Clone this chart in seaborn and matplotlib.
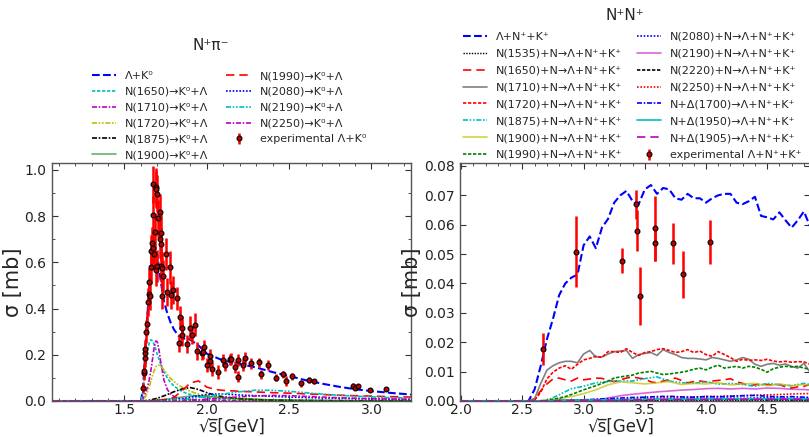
import matplotlib
matplotlib.use("Agg")
import matplotlib.pyplot as plt
import seaborn as sns
from matplotlib.ticker import MultipleLocator

# ---------------- left panel: N+ pi- -> Lambda K0 ----------------
LX = [1.06, 1.60, 1.61, 1.62, 1.63, 1.64, 1.65, 1.66, 1.67, 1.68, 1.69, 1.70, 1.71, 1.72,
      1.74, 1.76, 1.78, 1.80, 1.83, 1.86, 1.89, 1.92, 1.95, 2.0, 2.05, 2.1, 2.2, 2.3, 2.4,
      2.5, 2.6, 2.7, 2.8, 2.9, 3.0, 3.1, 3.24]
L_total = [0, 0, 0.04, 0.13, 0.26, 0.38, 0.48, 0.56, 0.61, 0.64, 0.655, 0.63, 0.58, 0.52,
           0.43, 0.38, 0.34, 0.31, 0.28, 0.27, 0.27, 0.255, 0.24, 0.205, 0.19, 0.175, 0.16,
           0.145, 0.125, 0.108, 0.09, 0.075, 0.062, 0.051, 0.043, 0.036, 0.028]
L_n1650 = [0, 0, 0.03, 0.10, 0.17, 0.22, 0.25, 0.265, 0.26, 0.245, 0.225, 0.20, 0.18, 0.16,
           0.125, 0.10, 0.08, 0.065, 0.05, 0.038, 0.03, 0.024, 0.019, 0.014, 0.01, 0.008,
           0.005, 0.003, 0.002, 0.0015, 0.001, 0.001, 0.001, 0.001, 0.001, 0.001, 0.001]
L_n1710 = [0, 0, 0.005, 0.02, 0.04, 0.06, 0.09, 0.13, 0.18, 0.23, 0.26, 0.255, 0.22, 0.17,
           0.09, 0.05, 0.03, 0.02, 0.012, 0.008, 0.006, 0.005, 0.004, 0.003, 0.003, 0.002,
           0.002, 0.002, 0.002, 0.001, 0.001, 0.001, 0.001, 0.001, 0.001, 0.001, 0.001]
L_n1720 = [0, 0, 0.004, 0.01, 0.022, 0.04, 0.06, 0.085, 0.11, 0.13, 0.148, 0.155, 0.155, 0.15,
           0.135, 0.115, 0.098, 0.085, 0.068, 0.055, 0.045, 0.037, 0.03, 0.022, 0.017, 0.013,
           0.008, 0.006, 0.004, 0.003, 0.002, 0.002, 0.0015, 0.001, 0.001, 0.001, 0.001]

LX_MID = [1.06, 1.60, 1.65, 1.70, 1.75, 1.80, 1.85, 1.90, 1.95, 2.0, 2.05, 2.1, 2.2, 2.3,
          2.4, 2.5, 2.6, 2.7, 2.8, 2.9, 3.0, 3.1, 3.24]
L_n1875 = [0, 0, 0.003, 0.012, 0.025, 0.04, 0.052, 0.058, 0.05, 0.036, 0.025, 0.018, 0.01,
           0.006, 0.004, 0.003, 0.002, 0.002, 0.001, 0.001, 0.001, 0.001, 0.001]
L_n1900 = [0, 0, 0.001, 0.004, 0.008, 0.012, 0.017, 0.021, 0.023, 0.02, 0.017, 0.015, 0.01,
           0.007, 0.005, 0.004, 0.003, 0.002, 0.002, 0.001, 0.001, 0.001, 0.001]
L_n1990 = [0, 0, 0.001, 0.002, 0.006, 0.015, 0.045, 0.078, 0.087, 0.06, 0.05, 0.046, 0.042,
           0.039, 0.036, 0.034, 0.031, 0.028, 0.025, 0.023, 0.021, 0.019, 0.017]
L_n2080 = [0, 0, 0, 0.001, 0.003, 0.006, 0.01, 0.016, 0.022, 0.028, 0.03, 0.03, 0.026,
           0.023, 0.02, 0.017, 0.015, 0.013, 0.012, 0.01, 0.009, 0.008, 0.007]
L_n2190 = [0, 0, 0, 0, 0.001, 0.003, 0.006, 0.01, 0.015, 0.02, 0.025, 0.03, 0.04,
           0.047, 0.046, 0.042, 0.036, 0.03, 0.025, 0.021, 0.018, 0.015, 0.012]
L_n2250 = [0, 0, 0, 0, 0, 0, 0.001, 0.003, 0.005, 0.008, 0.01, 0.013, 0.018,
           0.022, 0.024, 0.023, 0.02, 0.017, 0.014, 0.012, 0.01, 0.009, 0.007]

L_exp_x = [1.610, 1.616, 1.620, 1.622, 1.624, 1.627, 1.630, 1.634, 1.640, 1.646, 1.650, 1.654,
           1.660, 1.664, 1.670, 1.674, 1.676, 1.676, 1.680, 1.684, 1.690, 1.690, 1.694, 1.700,
           1.700, 1.706, 1.716, 1.716, 1.720, 1.720, 1.720, 1.730, 1.736, 1.730, 1.750, 1.760,
           1.774, 1.780, 1.794, 1.820, 1.840, 1.850, 1.850, 1.830, 1.880, 1.900, 1.910, 1.930,
           1.940, 1.970, 1.975, 1.980, 2.000, 2.020, 2.020, 2.030, 2.070, 2.100, 2.110, 2.140,
           2.150, 2.170, 2.190, 2.190, 2.220, 2.230, 2.270, 2.320, 2.330, 2.370, 2.420, 2.460,
           2.480, 2.520, 2.570, 2.620, 2.650, 2.890, 2.900, 2.920, 2.990, 3.090]
L_exp_y = [0.056, 0.120, 0.130, 0.185, 0.206, 0.225, 0.300, 0.335, 0.428, 0.463, 0.516, 0.454,
           0.578, 0.650, 0.685, 0.664, 0.939, 0.807, 0.635, 0.733, 0.928, 0.566, 0.917, 0.897,
           0.585, 0.790, 0.817, 0.700, 0.728, 0.678, 0.585, 0.574, 0.540, 0.456, 0.635, 0.473,
           0.578, 0.460, 0.480, 0.445, 0.363, 0.316, 0.287, 0.250, 0.246, 0.316, 0.285, 0.330,
           0.216, 0.206, 0.210, 0.235, 0.156, 0.196, 0.173, 0.137, 0.127, 0.177, 0.156, 0.180,
           0.182, 0.147, 0.106, 0.177, 0.156, 0.187, 0.163, 0.167, 0.116, 0.156, 0.100, 0.116,
           0.087, 0.107, 0.077, 0.090, 0.085, 0.066, 0.056, 0.064, 0.047, 0.052]
L_exp_e = [0.02, 0.03, 0.03, 0.04, 0.04, 0.04, 0.05, 0.05, 0.06, 0.06, 0.06, 0.06,
           0.07, 0.07, 0.07, 0.07, 0.08, 0.08, 0.07, 0.08, 0.08, 0.07, 0.08, 0.08,
           0.07, 0.08, 0.08, 0.08, 0.08, 0.07, 0.07, 0.07, 0.07, 0.06, 0.07, 0.06,
           0.07, 0.06, 0.06, 0.05, 0.05, 0.05, 0.05, 0.04, 0.04, 0.05, 0.04, 0.05,
           0.04, 0.03, 0.03, 0.03, 0.03, 0.03, 0.03, 0.03, 0.03, 0.025, 0.025, 0.025,
           0.025, 0.025, 0.025, 0.025, 0.025, 0.025, 0.025, 0.02, 0.02, 0.02, 0.015, 0.015,
           0.02, 0.015, 0.015, 0.012, 0.012, 0.012, 0.01, 0.008, 0.008, 0.006]

# ---------------- right panel: N+ N+ -> Lambda N+ K+ ----------------
RX = [1.99, 2.55, 2.60, 2.65, 2.70, 2.75, 2.80, 2.85, 2.90, 2.95, 3.00, 3.05, 3.10, 3.15,
      3.20, 3.25, 3.30, 3.35, 3.40, 3.45, 3.50, 3.55, 3.60, 3.65, 3.70, 3.75, 3.80, 3.85,
      3.90, 3.95, 4.00, 4.05, 4.10, 4.15, 4.20, 4.25, 4.30, 4.35, 4.40, 4.45, 4.50, 4.55,
      4.60, 4.65, 4.70, 4.75, 4.80, 4.85, 4.90]
R_total = [0, 0, 0.004, 0.012, 0.021, 0.028, 0.036, 0.040, 0.042, 0.043, 0.053, 0.056, 0.052,
           0.059, 0.062, 0.0675, 0.070, 0.0715, 0.068, 0.067, 0.072, 0.0735, 0.0705, 0.0725,
           0.072, 0.069, 0.0685, 0.0705, 0.069, 0.069, 0.0675, 0.069, 0.070, 0.0705, 0.0705,
           0.0675, 0.067, 0.068, 0.0695, 0.063, 0.0625, 0.0618, 0.0642, 0.0615, 0.059, 0.0615,
           0.0645, 0.0595, 0.060]
R_n1710 = [0, 0, 0.0008, 0.006, 0.0105, 0.012, 0.013, 0.0135, 0.0135, 0.013, 0.016, 0.0172,
           0.015, 0.015, 0.016, 0.0168, 0.017, 0.0172, 0.0145, 0.0158, 0.0162, 0.0165, 0.0155,
           0.0175, 0.0165, 0.0158, 0.0148, 0.0145, 0.0145, 0.0143, 0.014, 0.0148, 0.0145,
           0.014, 0.0135, 0.014, 0.0148, 0.0142, 0.0125, 0.0118, 0.0125, 0.0128, 0.0122,
           0.0126, 0.0118, 0.0112, 0.0128, 0.0098, 0.0105]
R_n1720 = [0, 0, 0.0003, 0.003, 0.0075, 0.0098, 0.0112, 0.012, 0.0108, 0.0125, 0.014, 0.0145,
           0.0152, 0.0148, 0.0168, 0.0168, 0.0165, 0.0178, 0.0165, 0.0155, 0.0165, 0.0168,
           0.0175, 0.0178, 0.0172, 0.0165, 0.0168, 0.0175, 0.0165, 0.017, 0.0158, 0.0152,
           0.0168, 0.0158, 0.0148, 0.0135, 0.0142, 0.0138, 0.014, 0.0138, 0.0142, 0.0136,
           0.0133, 0.0135, 0.0132, 0.0134, 0.0133, 0.0125, 0.0122]
R_n1650 = [0, 0, 0.0008, 0.0035, 0.0058, 0.0075, 0.0078, 0.0072, 0.0068, 0.0078, 0.0072,
           0.0075, 0.0078, 0.0077, 0.007, 0.0066, 0.0072, 0.0078, 0.0082, 0.0078, 0.0075,
           0.0065, 0.0062, 0.0068, 0.0072, 0.0078, 0.007, 0.0062, 0.0066, 0.0068, 0.0065,
           0.0068, 0.007, 0.0072, 0.0076, 0.0065, 0.006, 0.0052, 0.0055, 0.0058, 0.0056,
           0.0054, 0.0056, 0.0048, 0.0044, 0.0048, 0.005, 0.0056, 0.0055]
R_n1990 = [0, 0, 0, 0, 0.0002, 0.0006, 0.001, 0.0015, 0.0022, 0.003, 0.0038, 0.0045, 0.0052,
           0.006, 0.0068, 0.0078, 0.0082, 0.0085, 0.0088, 0.0095, 0.0098, 0.0101, 0.0095,
           0.009, 0.0092, 0.0095, 0.0098, 0.0102, 0.0108, 0.0112, 0.0106, 0.0115, 0.0122,
           0.0112, 0.0115, 0.0118, 0.0112, 0.0118, 0.0115, 0.0108, 0.0098, 0.011, 0.0115,
           0.0118, 0.0116, 0.0118, 0.0112, 0.0108, 0.011]

RXC = [1.99, 2.5, 2.6, 2.7, 2.8, 2.9, 3.0, 3.1, 3.2, 3.3, 3.4, 3.5, 3.6, 3.7, 3.8, 3.9,
       4.0, 4.1, 4.2, 4.3, 4.4, 4.5, 4.6, 4.7, 4.8, 4.9]
R_n1875 = [0, 0, 0, 0.0002, 0.0021, 0.0042, 0.005, 0.0062, 0.0066, 0.0068, 0.0068, 0.0076,
           0.0082, 0.0068, 0.0062, 0.006, 0.0066, 0.0057, 0.006, 0.0056, 0.005, 0.006,
           0.0055, 0.0052, 0.006, 0.0052]
R_n1900 = [0, 0, 0, 0.0002, 0.0008, 0.0015, 0.0025, 0.0038, 0.0055, 0.0065, 0.0062, 0.0058,
           0.0062, 0.0066, 0.0056, 0.006, 0.0058, 0.0062, 0.0055, 0.0058, 0.006, 0.0052,
           0.0058, 0.0052, 0.0056, 0.005]
R_n2190 = [0, 0, 0, 0, 0, 0, 0, 0.0003, 0.001, 0.0018, 0.0023, 0.0027, 0.0031, 0.0034,
           0.0037, 0.0039, 0.0042, 0.0043, 0.0041, 0.0043, 0.0041, 0.0044, 0.0043, 0.004,
           0.0039, 0.0036]
R_n2250 = [0, 0, 0, 0, 0.0001, 0.0002, 0.0003, 0.0004, 0.0005, 0.0006, 0.0008, 0.0009,
           0.001, 0.0012, 0.0012, 0.0014, 0.0015, 0.0016, 0.0017, 0.0018, 0.002, 0.0021,
           0.0022, 0.0024, 0.0025, 0.0026]
R_d1700 = [0, 0, 0, 0, 0.0001, 0.0002, 0.0004, 0.0006, 0.0008, 0.001, 0.0012, 0.0013,
           0.0015, 0.0016, 0.0014, 0.0013, 0.0015, 0.0014, 0.0016, 0.0018, 0.0019, 0.0016,
           0.0014, 0.0015, 0.0013, 0.0012]
R_n2080 = [0, 0, 0, 0, 0, 0.0001, 0.0002, 0.0003, 0.0004, 0.0005, 0.0006, 0.0006, 0.0007,
           0.0008, 0.0008, 0.0009, 0.0008, 0.0009, 0.001, 0.0009, 0.001, 0.0011, 0.001,
           0.0009, 0.001, 0.0009]

RXL = [1.99, 2.6, 3.0, 3.5, 4.0, 4.5, 4.9]
R_n1535 = [0, 0.0001, 0.0003, 0.0002, 0.0002, 0.0002, 0.0002]
R_n2220 = [0, 0, 0.0002, 0.0004, 0.0005, 0.0005, 0.0004]
R_d1950 = [0, 0, 0.0003, 0.0006, 0.0007, 0.0008, 0.0007]
R_d1905 = [0, 0, 0.0002, 0.0004, 0.0005, 0.0006, 0.0006]

R_exp_x = [2.67, 2.94, 3.31, 3.43, 3.44, 3.46, 3.58, 3.58, 3.73, 3.81, 4.03]
R_exp_y = [0.0178, 0.0508, 0.0478, 0.0669, 0.058, 0.0357, 0.0588, 0.0537, 0.0537, 0.0431, 0.0542]
R_exp_e = [0.0055, 0.012, 0.0042, 0.005, 0.0071, 0.010, 0.011, 0.006, 0.007, 0.008, 0.0075]

# ---------------- style ----------------
sns.set_style("ticks", {"xtick.direction": "in", "ytick.direction": "in"})
plt.rcParams["font.family"] = ["DejaVu Sans"]

DD = (0, (2, 1))          # dense dashes
DOT = (0, (1, 1))
DASHDOT = (0, (3, 1, 1, 1))
DDOT = (0, (3, 1, 1, 1, 1, 1))

fig = plt.figure(figsize=(8.09, 4.37), dpi=100)
axL = fig.add_axes([52 / 809, 36 / 437, 359 / 809, 238 / 437])
axR = fig.add_axes([460 / 809, 36 / 437, 350 / 809, 238 / 437])


def curve(ax, x, y, label, color, ls, lw=1.2, alpha=1.0):
    sns.lineplot(x=x, y=y, ax=ax, color=color, linestyle=ls, linewidth=lw, alpha=alpha,
                 label=label, estimator=None, sort=False)


curve(axL, LX, L_total, "Λ+K⁰", "b", "--", 1.5)
curve(axL, LX, L_n1650, "N(1650)→K⁰+Λ", "c", DD)
curve(axL, LX, L_n1710, "N(1710)→K⁰+Λ", "m", DASHDOT)
curve(axL, LX, L_n1720, "N(1720)→K⁰+Λ", "y", DDOT)
curve(axL, LX_MID, L_n1875, "N(1875)→K⁰+Λ", "k", DASHDOT)
curve(axL, LX_MID, L_n1900, "N(1900)→K⁰+Λ", "g", "-", 1.2, 0.6)
curve(axL, LX_MID, L_n1990, "N(1990)→K⁰+Λ", "r", (0, (5, 3)))
curve(axL, LX_MID, L_n2080, "N(2080)→K⁰+Λ", "b", DOT)
curve(axL, LX_MID, L_n2190, "N(2190)→K⁰+Λ", "c", DDOT)
curve(axL, LX_MID, L_n2250, "N(2250)→K⁰+Λ", "m", DASHDOT)
axL.errorbar(L_exp_x, L_exp_y, yerr=L_exp_e, fmt="o", ms=3.5, mfc="#c00000", mec="k", mew=0.8,
             ecolor="red", elinewidth=1.8, capsize=0, zorder=5, label="experimental Λ+K⁰")

curve(axR, RX, R_total, "Λ+N⁺+K⁺", "b", "--", 1.5)
curve(axR, RXL, R_n1535, "N(1535)+N→Λ+N⁺+K⁺", "k", DOT, 1.0)
curve(axR, RX, R_n1650, "N(1650)+N→Λ+N⁺+K⁺", "r", (0, (5, 3)))
curve(axR, RX, R_n1710, "N(1710)+N→Λ+N⁺+K⁺", "grey", "-")
curve(axR, RX, R_n1720, "N(1720)+N→Λ+N⁺+K⁺", "r", DD)
curve(axR, RXC, R_n1875, "N(1875)+N→Λ+N⁺+K⁺", "c", DDOT)
curve(axR, RXC, R_n1900, "N(1900)+N→Λ+N⁺+K⁺", "y", "-", 1.2, 0.7)
curve(axR, RX, R_n1990, "N(1990)+N→Λ+N⁺+K⁺", "g", DD)
curve(axR, RXC, R_n2080, "N(2080)+N→Λ+N⁺+K⁺", "b", DOT)
curve(axR, RXC, R_n2190, "N(2190)+N→Λ+N⁺+K⁺", "m", "-", 1.2, 0.6)
curve(axR, RXL, R_n2220, "N(2220)+N→Λ+N⁺+K⁺", "k", DD)
curve(axR, RXC, R_n2250, "N(2250)+N→Λ+N⁺+K⁺", "r", DOT)
curve(axR, RXC, R_d1700, "N+Δ(1700)→Λ+N⁺+K⁺", "b", DASHDOT)
curve(axR, RXL, R_d1950, "N+Δ(1950)→Λ+N⁺+K⁺", "c", "-")
curve(axR, RXL, R_d1905, "N+Δ(1905)→Λ+N⁺+K⁺", "m", (0, (5, 3)))
axR.errorbar(R_exp_x, R_exp_y, yerr=R_exp_e, fmt="o", ms=3.5, mfc="#c00000", mec="k", mew=0.8,
             ecolor="red", elinewidth=1.8, capsize=0, zorder=5, label="experimental Λ+N⁺+K⁺")

# axes cosmetics
axL.set_xlim(1.06, 3.24)
axL.set_ylim(0, 1.03)
axL.xaxis.set_major_locator(MultipleLocator(0.5))
axL.xaxis.set_minor_locator(MultipleLocator(0.1))
axL.yaxis.set_major_locator(MultipleLocator(0.2))
axL.yaxis.set_minor_locator(MultipleLocator(0.1))

axR.set_xlim(1.99, 4.85)
axR.set_ylim(0, 0.081)
axR.xaxis.set_major_locator(MultipleLocator(0.5))
axR.xaxis.set_minor_locator(MultipleLocator(0.1))
axR.yaxis.set_major_locator(MultipleLocator(0.01))

XLABEL = "√s\u0305[GeV]"

for ax, xc in ((axL, 0.50), (axR, 0.46)):
    ax.tick_params(which="both", direction="in", top=True, right=True,
                   labelsize=10, colors="#333333", labelcolor="#222222")
    ax.tick_params(axis="x", pad=1.5)
    ax.tick_params(axis="y", pad=4)
    ax.tick_params(which="major", length=4)
    ax.tick_params(which="minor", length=2)
    for sp in ax.spines.values():
        sp.set_color("#555555")
        sp.set_linewidth(1.0)
    ax.set_xlabel(XLABEL, fontsize=12)
    ax.xaxis.label.set_va("bottom")
    ax.xaxis.set_label_coords(xc, -35 / 238)
    ax.set_ylabel("σ [mb]", fontsize=15, labelpad=1)

leg_kw = dict(ncol=2, loc="lower center", frameon=False, fontsize=8, borderpad=0,
              borderaxespad=0, handlelength=2.2, handletextpad=0.8,
              bbox_transform=fig.transFigure)
axL.legend(columnspacing=1.6, labelspacing=0.52, bbox_to_anchor=(229 / 809, 1 - 160 / 437),
           **leg_kw)
axR.legend(columnspacing=1.3, labelspacing=0.62, bbox_to_anchor=(632 / 809, 1 - 160 / 437),
           **leg_kw)

fig.text(211 / 809, 1 - 45 / 437, "N⁺π⁻", ha="center", va="center", fontsize=11)
fig.text(625 / 809, 1 - 16 / 437, "N⁺N⁺", ha="center", va="center", fontsize=11)

fig.savefig("out.png", dpi=100)
